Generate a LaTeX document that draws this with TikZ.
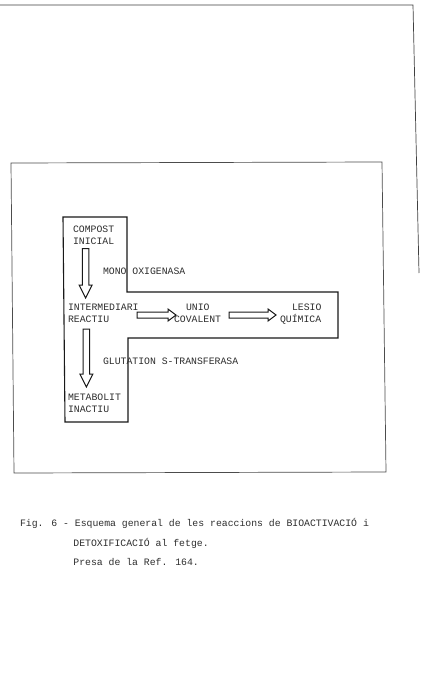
\documentclass[tikz,border=0pt]{standalone}
\usepackage{fontspec}
\newfontfamily\tw{Liberation Mono}
\usetikzlibrary{calc}
\definecolor{ink}{gray}{0.18}
\tikzset{
  txt/.style={anchor=base west, inner sep=0pt, outer sep=0pt, text=ink, font=\tw\fontsize{9.8}{12}\selectfont},
  blk/.style={draw=black!90, line width=1pt, line join=miter, fill=white},
  tshape/.style={draw=black!90, line width=1.1pt},
  frame/.style={draw=black!70, line width=0.7pt},
  page/.style={draw=black!75, line width=0.7pt}
}
\newcommand\dnarrow[2]{\draw[blk] let \p1=(#1),\p2=(#2) in
  (\x1-3.3pt,\y1) -- (\x1+3.3pt,\y1) -- (\x1+3.3pt,\y2+13pt) -- (\x1+6.5pt,\y2+13pt)
  -- (\x1,\y2) -- (\x1-6.5pt,\y2+13pt) -- (\x1-3.3pt,\y2+13pt) -- cycle;}
\newcommand\rtarrow[2]{\draw[blk] let \p1=(#1),\p2=(#2) in
  (\x1,\y1+3pt) -- (\x2-8pt,\y1+3pt) -- (\x2-8pt,\y1+6pt) -- (\x2,\y1)
  -- (\x2-8pt,\y1-6pt) -- (\x2-8pt,\y1-3pt) -- (\x1,\y1-3pt) -- cycle;}
\begin{document}
\begin{tikzpicture}[x=1pt,y=-1pt]
\useasboundingbox[fill=white] (0,0) rectangle (420,695);
% page edge
\draw[page] (0,5) -- (413,5) -- (419,273);
% outer frame
\draw[frame] (11,163) -- (382,162) -- (386,472) -- (14,473) -- cycle;
% T shape
\draw[tshape] (63,217) -- (127,217) -- (127,292) -- (338,292) -- (338,338)
  -- (128,338) -- (128,422) -- (65,422) -- cycle;
% texts
\node[txt] (compost) at (73,232.5) {COMPOST};
\node[txt] (inicial) at (73,244.5) {INICIAL};
\node[txt] (mono) at (103,274.5) {MONO OXIGENASA};
\node[txt] (inter) at (68,310) {INTERMEDIARI};
\node[txt] (reactiu) at (68,322) {REACTIU};
\node[txt] (unio) at (186,310) {UNIO};
\node[txt] (coval) at (174,322) {COVALENT};
\node[txt] (lesio) at (292,310) {LESIO};
\node[txt] (quim) at (280,322) {QUÍMICA};
\node[txt] (glut) at (103,364.5) {GLUTATION S-TRANSFERASA};
\node[txt] (metab) at (68,400.5) {METABOLIT};
\node[txt] (inact) at (68,412.5) {INACTIU};
% caption
\node[txt] (cap1) at (20,526.7) {Fig. 6 - Esquema general de les reaccions de BIOACTIVACIÓ i};
\node[txt] (cap2) at (73.4,546.7) {DETOXIFICACIÓ al fetge.};
\node[txt] (cap3) at (73.4,565) {Presa de la Ref. 164.};
% arrow ends
\coordinate (d1s) at (85.6,248.5);
\coordinate (d1e) at (85.6,298);
\coordinate (d2s) at (86.4,329);
\coordinate (d2e) at (86.4,387);
\coordinate (r1s) at (137,315);
\coordinate (r1e) at (176,315);
\coordinate (r2s) at (229,315);
\coordinate (r2e) at (276,315);
\dnarrow{d1s}{d1e}
\dnarrow{d2s}{d2e}
\rtarrow{r1s}{r1e}
\rtarrow{r2s}{r2e}
\end{tikzpicture}
\end{document}
